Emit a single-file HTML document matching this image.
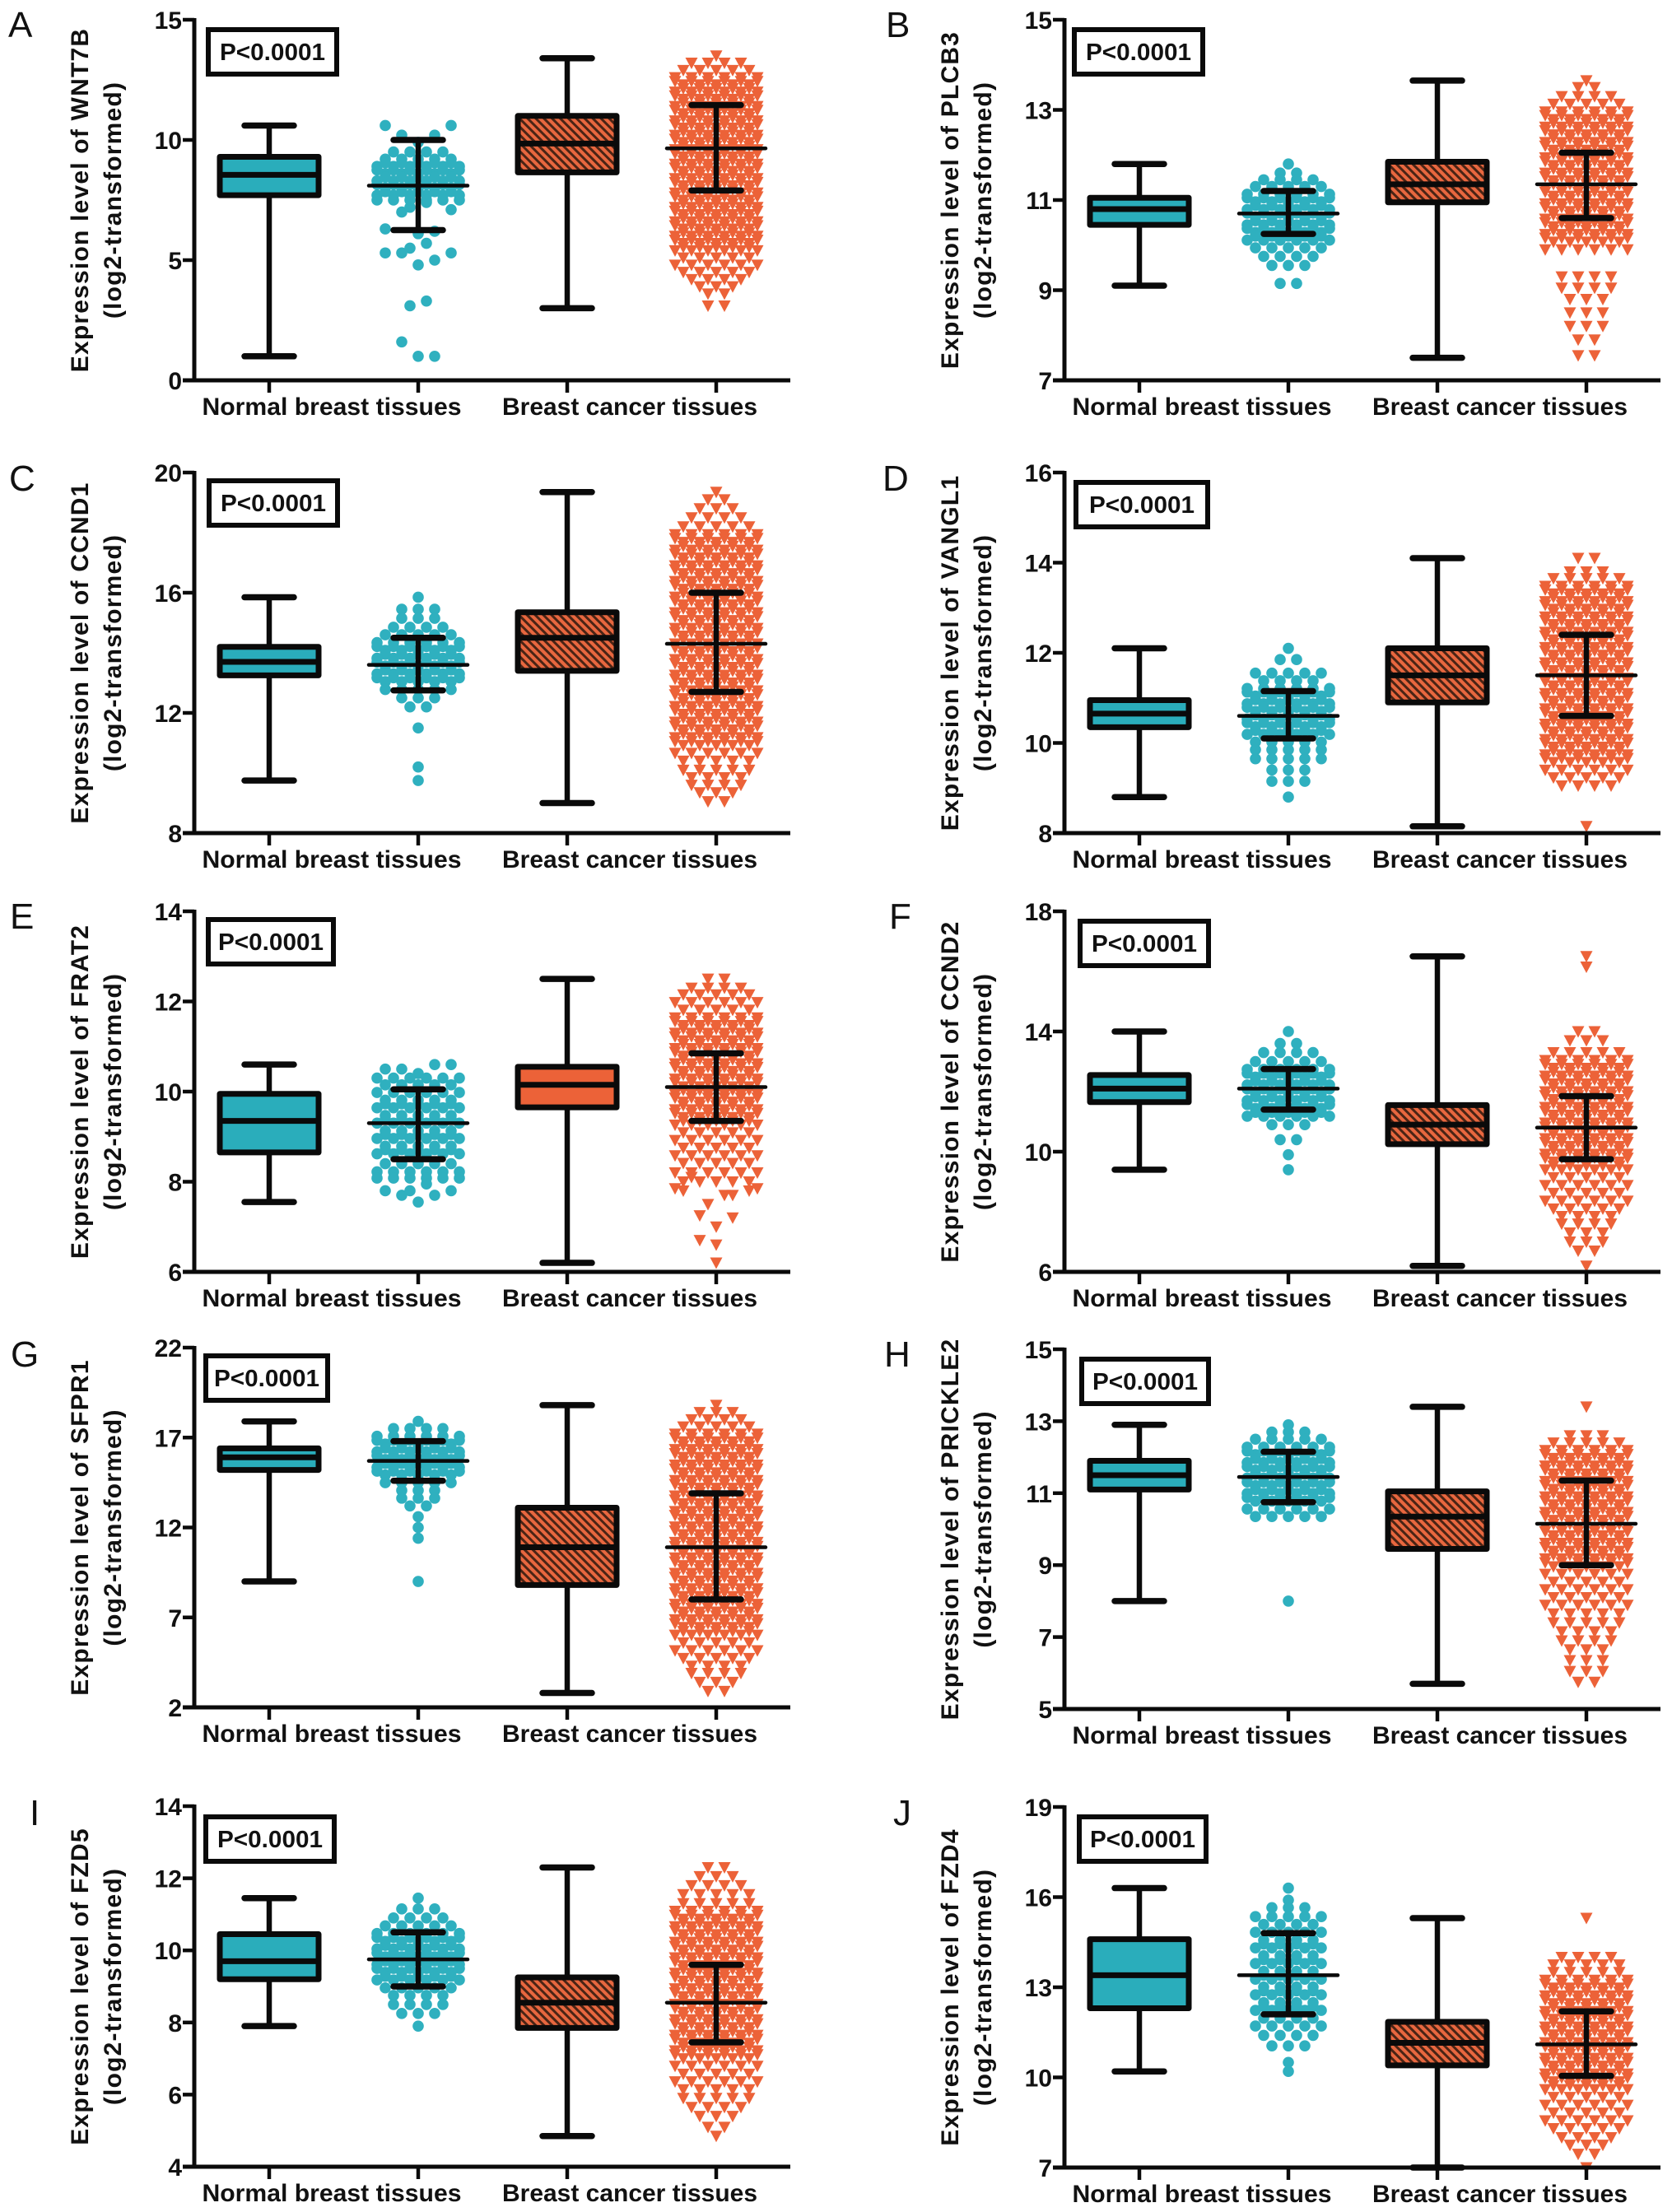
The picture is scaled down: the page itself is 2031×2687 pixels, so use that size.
<!DOCTYPE html>
<html lang="en">
<head>
<meta charset="utf-8">
<title>Expression levels in normal breast and breast cancer tissues</title>
<style>
html,body{margin:0;padding:0;background:#fff;}
svg{display:block;}
text{font-family:"Liberation Sans",sans-serif;fill:#111;}
</style>
</head>
<body>
<svg id="figure" xmlns="http://www.w3.org/2000/svg" width="2031" height="2687" viewBox="0 0 2031 2687">
<defs>
<pattern id="hatch" patternUnits="userSpaceOnUse" width="7" height="7" patternTransform="rotate(-45)">
<rect width="7" height="7" fill="#e8673f"></rect>
<rect width="3" height="7" fill="#4a2415"></rect>
</pattern>
</defs>
</svg>
<script>
const panelLetters=["A","B","C","D","E","F","G","H","I","J"];
const yTitles=["Expression level of WNT7B","Expression level of PLCB3","Expression level of CCND1","Expression level of VANGL1","Expression level of FRAT2","Expression level of CCND2","Expression level of SFPR1","Expression level of PRICKLE2","Expression level of FZD5","Expression level of FZD4"];
const ySubtitle="(log2-transformed)";
const categories=["Normal breast tissues","Breast cancer tissues"];
const pValueText="P<0.0001";
const yTicks=[[0,5,10,15],[7,9,11,13,15],[8,12,16,20],[8,10,12,14,16],[6,8,10,12,14],[6,10,14,18],[2,7,12,17,22],[5,7,9,11,13,15],[4,6,8,10,12,14],[7,10,13,16,19]];

const normalWhiskerLow=[1,9.1,9.75,8.8,7.55,9.4,9,8,7.9,10.2];
const normalQ1=[7.7,10.45,13.25,10.35,8.65,11.65,15.2,11.1,9.2,12.3];
const normalMedian=[8.55,10.8,13.7,10.65,9.35,12.1,15.9,11.5,9.7,13.4];
const normalQ3=[9.3,11.05,14.2,10.95,9.95,12.55,16.4,11.9,10.45,14.6];
const normalWhiskerHigh=[10.6,11.8,15.85,12.1,10.6,14,17.9,12.9,11.45,16.3];
const normalMean=[8.1,10.7,13.6,10.6,9.3,12.1,15.7,11.45,9.75,13.4];
const normalSdLow=[6.25,10.25,12.75,10.1,8.5,11.4,14.6,10.75,9,12.1];
const normalSdHigh=[10,11.2,14.5,11.15,10.05,12.75,16.8,12.15,10.5,14.8];

const tumorWhiskerLow=[3,7.5,9,8.15,6.2,6.2,2.8,5.7,4.85,7];
const tumorQ1=[8.65,10.95,13.4,10.9,9.65,10.25,8.8,9.45,7.85,10.4];
const tumorMedian=[9.85,11.35,14.5,11.5,10.15,10.9,10.9,10.35,8.55,11.15];
const tumorQ3=[11,11.85,15.35,12.1,10.55,11.55,13.1,11.05,9.25,11.85];
const tumorWhiskerHigh=[13.4,13.65,19.35,14.1,12.5,16.5,18.8,13.4,12.3,15.3];
const tumorMean=[9.65,11.35,14.3,11.5,10.1,10.8,10.9,10.15,8.55,11.1];
const tumorSdLow=[7.9,10.6,12.7,10.6,9.35,9.75,8,9,7.45,10.05];
const tumorSdHigh=[11.45,12.05,16,12.4,10.85,11.85,13.9,11.35,9.6,12.2];

/* swarm rows: [value, points, optional second value with the same number of points]; a nested first item lists a bin's individual values */
const normalRowsA=[[[1,1.6,1]],[[3.1,3.3]],[[4.8,5.3,5,5.3,5.3]],[[5.5,5.7]],[[6.1,7,6.2,6.3,7.1]],[[7.2,7.4]],[7.7,6,7.5],[8,5,7.85],[8.3,6,8.15],[8.6,5,8.45],[8.9,6,8.75],[9.2,5,9.05],[9.5,4],[[9.9,10.2,10.2,10.6,10.6]]];
const normalRowsB=[[11.8,1],[11.6,2],[11.45,4],[11.3,5],[11.13,6,11.05],[10.96,5,10.88],[10.79,6,10.71],[10.62,5,10.54],[10.45,6,10.37],[10.28,5,10.2],[10.11,6],[9.94,5],[9.75,4],[9.55,3],[9.15,2]];
const normalRowsC=[[15.85,1],[15.45,3],[15.15,3],[14.85,4],[14.6,5],[14.34,6,14.21],[14.08,5,13.95],[13.82,6,13.69],[13.56,5,13.43],[13.3,6,13.17],[13.04,5],[12.78,5],[12.5,3],[12.2,2],[11.5,1],[10.2,1],[9.75,1]];
const normalRowsD=[[12.1,1],[11.85,2],[11.55,5],[11.38,4],[11.21,6,11.13],[11.04,5,10.96],[10.87,6,10.79],[10.7,5,10.62],[10.53,6,10.45],[10.36,5,10.28],[10.19,6],[10.02,5],[9.85,5],[9.65,5],[9.4,3],[9.15,3],[8.8,1]];
const normalRowsE=[[[10.4,10.5,10.6,10.5,10.6]],[10.3,6],[10.15,5],[9.98,6],[9.81,5,9.73],[9.64,6],[9.47,5,9.39],[9.3,6],[9.13,5,9.05],[8.96,6],[8.79,5,8.71],[8.62,6],[8.4,5],[8.22,6],[8.08,6],[[7.55,7.7,7.7,7.8,7.8]],[[7.8,7.95]]];
const normalRowsF=[[14,1],[13.6,2],[13.3,4],[13,5],[12.74,6,12.61],[12.48,5,12.35],[12.22,6,12.09],[11.96,5,11.83],[11.7,6,11.57],[11.44,5,11.31],[11.18,6],[10.9,3],[10.4,2],[9.9,1],[9.4,1]];
const normalRowsG=[[17.9,1],[17.5,4],[17.07,6,16.85],[16.64,5,16.42],[16.21,6,16],[15.78,5,15.56],[15.35,6,15.13],[14.92,5],[14.49,5],[14.06,3],[13.63,3],[13.2,2],[12.6,1],[12,1],[11.4,1],[9,1]];
const normalRowsH=[[12.9,1],[12.7,3],[12.5,5],[12.28,6,12.17],[12.07,5,11.96],[11.85,6,11.74],[11.64,5,11.53],[11.42,6,11.31],[11.21,5,11.1],[10.99,6,10.88],[10.78,5],[10.56,6],[10.35,5],[8,1]];
const normalRowsI=[[11.45,1],[11.15,3],[10.9,4],[10.68,5],[10.47,6,10.36],[10.25,5,10.14],[10.04,6,9.93],[9.82,5,9.71],[9.61,6,9.5],[9.39,5,9.28],[9.18,6],[8.96,5],[8.75,4],[8.5,4],[8.25,3],[7.9,1]];
const normalRowsJ=[[16.3,1],[15.9,1],[15.65,3],[15.35,5],[15.09,4],[14.83,5],[14.57,4,14.44],[14.31,5],[14.05,4,13.92],[13.79,5],[13.53,4,13.4],[13.27,5],[13.01,4,12.88],[12.75,5],[12.49,4,12.36],[12.23,5],[11.97,4],[11.71,5],[11.4,4],[11.05,3],[10.5,1],[10.2,1]];

const tumorRowsA=[[13.5,1],[13.2,4],[12.9,5],[12.6,6,12.44],[12.3,5,12.14],[12,6,11.84],[11.7,5,11.54],[11.4,6,11.24],[11.1,5,10.94],[10.8,6,10.64],[10.5,5,10.34],[10.2,6,10.04],[9.9,5,9.74],[9.6,6,9.44],[9.3,5,9.14],[9,6,8.84],[8.7,5,8.54],[8.4,6,8.24],[8.1,5,7.94],[7.8,6,7.64],[7.5,5,7.34],[7.2,6,7.04],[6.9,5,6.74],[6.6,6,6.44],[6.3,5,6.14],[6,6,5.84],[5.7,5,5.54],[5.4,6],[5.1,5],[4.8,6],[4.5,5],[4.2,4],[3.9,3],[3.6,2],[3.1,2]];
const tumorRowsB=[[13.65,1],[13.5,2],[13.3,4],[13.13,5],[12.96,6,12.88],[12.79,5,12.71],[12.62,6,12.54],[12.45,5,12.37],[12.28,6,12.2],[12.11,5,12.03],[11.94,6,11.86],[11.77,5,11.69],[11.6,6,11.52],[11.43,5,11.35],[11.26,6,11.18],[11.09,5,11.01],[10.92,6,10.84],[10.75,5,10.67],[10.58,6,10.5],[10.41,5,10.33],[10.24,6,10.16],[10.07,5],[9.9,6],[9.3,4],[9.05,4],[8.8,3],[8.5,3],[8.2,3],[7.9,2],[7.55,2]];
const tumorRowsC=[[19.35,1],[19.1,2],[18.8,3],[18.5,4],[18.2,5],[17.94,6,17.81],[17.68,5,17.55],[17.42,6,17.29],[17.16,5,17.03],[16.9,6,16.77],[16.64,5,16.51],[16.38,6,16.25],[16.12,5,15.99],[15.86,6,15.73],[15.6,5,15.47],[15.34,6,15.21],[15.08,5,14.95],[14.82,6,14.69],[14.56,5,14.43],[14.3,6,14.17],[14.04,5,13.91],[13.78,6,13.65],[13.52,5,13.39],[13.26,6,13.13],[13,5,12.87],[12.74,6,12.61],[12.48,5,12.35],[12.22,6,12.09],[11.96,5,11.83],[11.7,6,11.57],[11.44,5,11.31],[11.18,6,11.05],[10.92,5],[10.66,6],[10.4,5],[10.1,5],[9.85,4],[9.6,4],[9.35,3],[9.05,2]];
const tumorRowsD=[[14.1,2],[13.8,3],[13.65,5],[13.48,6,13.4],[13.31,5,13.23],[13.14,6,13.06],[12.97,5,12.89],[12.8,6,12.72],[12.63,5,12.55],[12.46,6,12.38],[12.29,5,12.21],[12.12,6,12.04],[11.95,5,11.87],[11.78,6,11.7],[11.61,5,11.53],[11.44,6,11.36],[11.27,5,11.19],[11.1,6,11.02],[10.93,5,10.85],[10.76,6,10.68],[10.59,5,10.51],[10.42,6,10.34],[10.25,5,10.17],[10.08,6,10],[9.91,5,9.83],[9.74,6,9.66],[9.57,5],[9.4,6],[9.23,5],[9.05,4],[8.15,1]];
const tumorRowsE=[[12.5,2],[12.3,4],[12.15,5],[11.98,6],[11.81,5],[11.64,6,11.56],[11.47,5,11.39],[11.3,6,11.22],[11.13,5,11.05],[10.96,6,10.88],[10.79,5,10.71],[10.62,6,10.54],[10.45,5,10.37],[10.28,6,10.2],[10.11,5,10.03],[9.94,6,9.86],[9.77,5,9.69],[9.6,6,9.52],[9.43,5,9.35],[9.26,6],[9.09,5],[8.92,6],[8.75,5],[8.58,6],[8.41,5],[8.2,6],[8,5],[[6.2]],[[6.6,6.7,7.2]],[[7,7.25,7.7,7.8,7.8]],[[7.5,7.7,8.1,8.2,7.85,7.85]]];
const tumorRowsF=[[16.5,1],[16.15,1],[14,2],[13.7,3],[13.3,5],[13.04,6,12.91],[12.78,5,12.65],[12.52,6,12.39],[12.26,5,12.13],[12,6,11.87],[11.74,5,11.61],[11.48,6,11.35],[11.22,5,11.09],[10.96,6,10.83],[10.7,5,10.57],[10.44,6,10.31],[10.18,5,10.05],[9.92,6,9.79],[9.66,5,9.53],[9.4,6],[9.14,5],[8.88,6],[8.62,5],[8.36,6],[8.1,5],[7.85,4],[7.6,4],[7.3,3],[7,3],[6.7,2],[6.2,1]];
const tumorRowsG=[[18.8,1],[18.4,3],[18,4],[17.6,5],[17.2,6,16.98],[16.77,5,16.55],[16.34,6,16.12],[15.91,5,15.69],[15.48,6,15.26],[15.05,5,14.83],[14.62,6,14.4],[14.19,5,13.97],[13.76,6,13.54],[13.33,5,13.11],[12.9,6,12.68],[12.47,5,12.25],[12.04,6,11.82],[11.61,5,11.39],[11.18,6,10.96],[10.75,5,10.53],[10.32,6,10.1],[9.89,5,9.67],[9.46,6,9.24],[9.03,5,8.81],[8.6,6,8.38],[8.17,5,7.95],[7.74,6,7.52],[7.31,5,7.09],[6.88,6,6.66],[6.45,5,6.23],[6.02,6],[5.59,5],[5.16,6],[4.73,5],[4.3,4],[3.9,4],[3.4,3],[2.9,2]];
const tumorRowsH=[[13.4,1],[12.6,3],[12.4,5],[12.19,6,12.08],[11.97,5,11.86],[11.76,6,11.65],[11.54,5,11.43],[11.33,6,11.22],[11.11,5,11],[10.9,6,10.79],[10.68,5,10.57],[10.47,6,10.36],[10.25,5,10.14],[10.04,6,9.93],[9.82,5,9.71],[9.61,6,9.5],[9.39,5,9.28],[9.18,6,9.07],[8.96,5],[8.75,6],[8.53,5],[8.32,6],[8.1,5],[7.89,6],[7.65,5],[7.4,5],[7.15,4],[6.9,4],[6.65,3],[6.35,3],[6.05,3],[5.75,2]];
const tumorRowsI=[[12.3,2],[12.05,3],[11.8,4],[11.55,5],[11.3,5],[11.09,6,10.98],[10.87,5,10.76],[10.66,6,10.55],[10.44,5,10.33],[10.23,6,10.12],[10.01,5,9.9],[9.8,6,9.69],[9.58,5,9.47],[9.37,6,9.26],[9.15,5,9.04],[8.94,6,8.83],[8.72,5,8.61],[8.51,6,8.4],[8.29,5,8.18],[8.08,6,7.97],[7.86,5,7.75],[7.65,6,7.54],[7.43,5,7.32],[7.22,6,7.11],[7,5],[6.79,6],[6.57,5],[6.36,6],[6.14,5],[5.9,5],[5.65,4],[5.4,3],[5.1,2],[4.85,1]];
const tumorRowsJ=[[15.3,1],[14,4],[13.75,5],[13.5,5],[13.24,6,13.11],[12.98,5,12.85],[12.72,6,12.59],[12.46,5,12.33],[12.2,6,12.07],[11.94,5,11.81],[11.68,6,11.55],[11.42,5,11.29],[11.16,6,11.03],[10.9,5,10.77],[10.64,6,10.51],[10.38,5,10.25],[10.12,6,9.99],[9.86,5,9.73],[9.6,6],[9.34,5],[9.08,6],[8.82,5],[8.56,6],[8.3,5],[8,4],[7.75,3],[7.45,2],[7,1]];

const normalRows=[normalRowsA,normalRowsB,normalRowsC,normalRowsD,normalRowsE,normalRowsF,normalRowsG,normalRowsH,normalRowsI,normalRowsJ];
const tumorRows=[tumorRowsA,tumorRowsB,tumorRowsC,tumorRowsD,tumorRowsE,tumorRowsF,tumorRowsG,tumorRowsH,tumorRowsI,tumorRowsJ];

/* page layout only (pixels), not chart data */
const columnOffset=[0,1057];
const frameTop=[24,24,574,574,1107,1107,1637,1639,2194,2195];
const frameBottom=[462,462,1012,1012,1545,1545,2074,2076,2632,2633];
const pBoxLeft=[253,1305,254,1307,253,1312,250,1314,250,1311];
const pBoxTop=[36,36,584,586,1117,1119,1647,1651,2207,2207];
const pBoxWidth=[156,156,156,160,152,156,148,154,156,154];
const letterX=[10,1076,11,1072,12,1080,13,1074,36,1085];
const letterBaseline=[45,45,596,596,1128,1128,1660,1660,2217,2217];

const svg=document.getElementById('figure');
const NS='http://www.w3.org/2000/svg';
function make(parent,tag,attrs,txt){
  const el=document.createElementNS(NS,tag);
  for(const k in attrs){el.setAttribute(k,attrs[k]);}
  if(txt!==undefined){el.textContent=txt;}
  parent.appendChild(el);
  return el;
}
function lineAttrs(x1,y1,x2,y2,w,cap){
  return {x1:x1,y1:y1,x2:x2,y2:y2,stroke:'#0a0a0a','stroke-width':w,'stroke-linecap':cap||'butt'};
}
/* centre-out column offset inside a swarm bin */
function columnFor(i,n){
  const step=20;
  if(n%2===1){
    return i===0?0:(i%2===1?-1:1)*Math.ceil(i/2)*step;
  }
  const k=Math.floor(i/2);
  return (i%2===0?-1:1)*(step/2+k*step);
}
function drawSwarm(group,rows,cx,yScale,kind){
  rows.forEach(function(row){
    const bins=[];
    if(Array.isArray(row[0])){
      bins.push(row[0]);
    }else{
      bins.push(new Array(row[1]).fill(row[0]));
      if(row.length>2){bins.push(new Array(row[1]).fill(row[2]));}
    }
    bins.forEach(function(values){
      values.forEach(function(v,i){
        const x=cx+columnFor(i,values.length);
        const y=yScale(v);
        if(kind==='normal'){
          const dot=make(group,'circle',{cx:x,cy:y,r:6.8,fill:'#2fb0bf'});
          
          
        }else{
          const tri=make(group,'polygon',{points:(x-7.5)+','+(y-6.5)+' '+(x+7.5)+','+(y-6.5)+' '+x+','+(y+7.5),fill:'#ec6238'});
          
          
        }
      });
    });
  });
}
function drawBox(group,cx,yScale,low,q1,med,q3,high,fill,name){
  const whisker=make(group,'line',lineAttrs(cx,yScale(low),cx,yScale(high),6.5));
  
  
  const capLow=make(group,'line',lineAttrs(cx-30,yScale(low),cx+30,yScale(low),7.5,'round'));
  
  
  const capHigh=make(group,'line',lineAttrs(cx-30,yScale(high),cx+30,yScale(high),7.5,'round'));
  
  
  const box=make(group,'rect',{x:cx-60,y:yScale(q3),width:120,height:yScale(q1)-yScale(q3),fill:fill,stroke:'#0a0a0a','stroke-width':7,'stroke-linejoin':'round'});
  
  
  const median=make(group,'line',lineAttrs(cx-60,yScale(med),cx+60,yScale(med),7));
  
  
}
function drawSummary(group,cx,yScale,mean,sdLow,sdHigh,name){
  const stem=make(group,'line',lineAttrs(cx,yScale(sdLow),cx,yScale(sdHigh),6.5));
  
  
  const capA=make(group,'line',lineAttrs(cx-30,yScale(sdLow),cx+30,yScale(sdLow),7.5,'round'));
  
  
  const capB=make(group,'line',lineAttrs(cx-30,yScale(sdHigh),cx+30,yScale(sdHigh),7.5,'round'));
  
  
  const meanLine=make(group,'line',lineAttrs(cx-60,yScale(mean),cx+60,yScale(mean),4.5,'round'));
  
  
}
panelLetters.forEach(function(letter,p){
  const dx=columnOffset[p%2];
  const axisX=236+dx;
  const top=frameTop[p];
  const bottom=frameBottom[p];
  const ticks=yTicks[p];
  const yMin=ticks[0];
  const yMax=ticks[ticks.length-1];
  const yScale=function(v){return bottom-(v-yMin)/(yMax-yMin)*(bottom-top);};
  const xPos=[327+dx,508+dx,689+dx,870+dx];
  const g=make(svg,'g',{});
  
  

  const letterEl=make(g,'text',{x:letterX[p],y:letterBaseline[p],'font-size':44},letter);
  
  

  const cy=(top+bottom)/2;
  const t1=make(g,'text',{transform:'translate('+(107+dx)+','+cy+') rotate(-90)','text-anchor':'middle','font-size':30,'font-weight':'bold','letter-spacing':1.2},yTitles[p]);
  
  
  const t2=make(g,'text',{transform:'translate('+(147+dx)+','+cy+') rotate(-90)','text-anchor':'middle','font-size':30,'font-weight':'bold','letter-spacing':1.2},ySubtitle);
  
  

  drawSwarm(g,normalRows[p],xPos[1],yScale,'normal');
  drawSwarm(g,tumorRows[p],xPos[3],yScale,'tumor');
  drawBox(g,xPos[0],yScale,normalWhiskerLow[p],normalQ1[p],normalMedian[p],normalQ3[p],normalWhiskerHigh[p],'#2aadbb','normal');
  drawBox(g,xPos[2],yScale,tumorWhiskerLow[p],tumorQ1[p],tumorMedian[p],tumorQ3[p],tumorWhiskerHigh[p],letter==='E'?'#ec6238':'url(#hatch)','tumor');
  drawSummary(g,xPos[1],yScale,normalMean[p],normalSdLow[p],normalSdHigh[p],'normal');
  drawSummary(g,xPos[3],yScale,tumorMean[p],tumorSdLow[p],tumorSdHigh[p],'tumor');

  const yAxis=make(g,'line',lineAttrs(axisX,top-2,axisX,bottom+2,5));
  
  
  const xAxis=make(g,'line',lineAttrs(axisX-14,bottom,960+dx,bottom,5));
  
  
  ticks.forEach(function(v){
    const y=yScale(v);
    const tick=make(g,'line',lineAttrs(axisX-14,y,axisX,y,4.5));
    
    
    const lab=make(g,'text',{x:axisX-15,y:y+11,'text-anchor':'end','font-size':30,'font-weight':'bold'},String(v));
    
    
  });
  xPos.forEach(function(x){
    const tick=make(g,'line',lineAttrs(x,bottom,x,bottom+15,4.5));
    
    
  });
  const catCentres=[403+dx,765+dx];
  const catWidths=[315,310];
  categories.forEach(function(c,i){
    const lab=make(g,'text',{x:catCentres[i],y:bottom+42,'text-anchor':'middle','font-size':30,'font-weight':'bold',textLength:catWidths[i],lengthAdjust:'spacingAndGlyphs'},c);
    
    
  });
  const pBox=make(g,'rect',{x:pBoxLeft[p],y:pBoxTop[p],width:pBoxWidth[p],height:54,fill:'#fff',stroke:'#0a0a0a','stroke-width':6});
  
  
  const pText=make(g,'text',{x:pBoxLeft[p]+pBoxWidth[p]/2,y:pBoxTop[p]+37,'text-anchor':'middle','font-size':29,'font-weight':'bold',textLength:128,lengthAdjust:'spacingAndGlyphs'},pValueText);
  
  
});
</script>
</body>
</html>
